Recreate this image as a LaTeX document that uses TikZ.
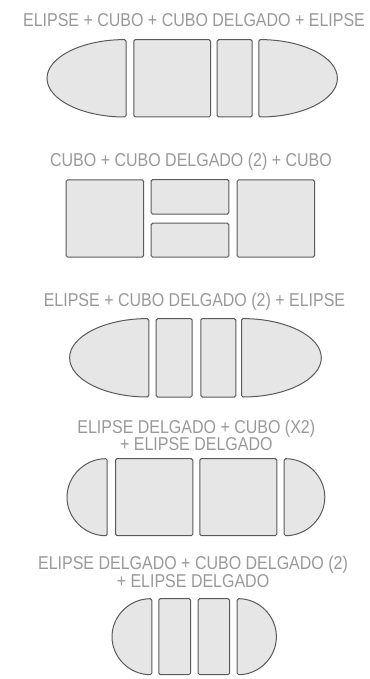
\documentclass[tikz,border=0pt]{standalone}
\usepackage{fontspec}
\setmainfont{Liberation Sans}[FakeStretch=0.86]
\definecolor{txtgray}{HTML}{999999}
\definecolor{piecefill}{HTML}{E6E6E6}
\definecolor{piecedraw}{HTML}{5A5A5A}
\begin{document}
\begin{tikzpicture}[x=1pt,y=-1pt,
  piece/.style={fill=piecefill,draw=piecedraw,line width=1pt,rounded corners=1.5pt},
  title/.style={text=txtgray,font=\fontsize{18.6}{17.6}\selectfont,inner sep=0pt,align=center,anchor=base}]
\useasboundingbox (0,0) rectangle (369,679);
% helpers
\newcommand{\leftHalf}[5]{% flat x, rx, cy, ry
  \draw[piece] (#1,#3-#4) arc[start angle=-90,end angle=-270,x radius=#2,y radius=#4] -- cycle;}
\newcommand{\rightHalf}[5]{%
  \draw[piece] (#1,#3-#4) arc[start angle=-90,end angle=90,x radius=#2,y radius=#4] -- cycle;}
\newcommand{\boxpiece}[4]{\draw[piece] (#1,#3) rectangle (#2,#4);}
% Row 1
\node[title] (t1) at (194,26.7) {ELIPSE + CUBO + CUBO DELGADO + ELIPSE};
\leftHalf{126}{79}{78.3}{38.7}{}
\boxpiece{133.8}{210.5}{39.6}{117}
\boxpiece{217.2}{252.2}{39.6}{117}
\rightHalf{258.8}{78.6}{78.3}{38.7}{}
% Row 2
\node[title] (t2) at (191,166.7) {CUBO + CUBO DELGADO (2) + CUBO};
\boxpiece{66.2}{143.5}{179.8}{257.2}
\boxpiece{151.2}{228.8}{179.5}{214.2}
\boxpiece{151.2}{228.8}{223.2}{257.2}
\boxpiece{237.2}{314.5}{179.8}{257.2}
% Row 3
\node[title] (t3) at (194.5,306) {ELIPSE + CUBO DELGADO (2) + ELIPSE};
\leftHalf{148.8}{79.2}{357.8}{39.2}{}
\boxpiece{156.2}{192.2}{318.6}{397}
\boxpiece{200.8}{235.8}{318.6}{397}
\rightHalf{241.5}{79.8}{357.8}{39.2}{}
% Row 4
\node[title] (t4) at (196.3,450.7) {ELIPSE DELGADO + CUBO (X2)\\+ ELIPSE DELGADO};
\leftHalf{107.2}{40.2}{497.2}{38.5}{}
\boxpiece{115.5}{192.8}{458.6}{535.7}
\boxpiece{199.8}{276.8}{458.6}{535.7}
\rightHalf{284.2}{40.6}{497.2}{38.5}{}
% Row 5
\node[title] (t5) at (193,587.3) {ELIPSE DELGADO + CUBO DELGADO (2)\\+ ELIPSE DELGADO};
\leftHalf{151.8}{39.8}{636.7}{38}{}
\boxpiece{158.8}{190.5}{598.6}{674.7}
\boxpiece{198.2}{229.5}{598.6}{674.7}
\rightHalf{237.2}{39.2}{636.7}{38}{}
\end{tikzpicture}
\end{document}
